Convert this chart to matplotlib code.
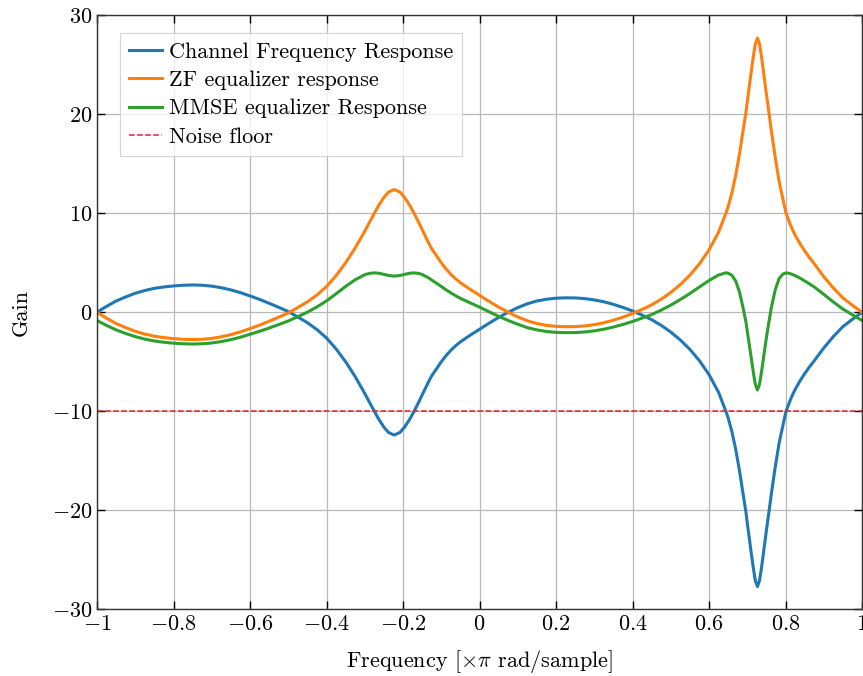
import numpy as np
import matplotlib
matplotlib.use("Agg")
import matplotlib.pyplot as plt
from matplotlib.ticker import FuncFormatter

plt.rcParams['font.family'] = 'serif'
plt.rcParams['font.serif'] = ['cmr10']
plt.rcParams['mathtext.fontset'] = 'cm'
plt.rcParams['axes.unicode_minus'] = False

# frequency in units of pi rad/sample
freq = [-1.0, -0.975, -0.95, -0.925, -0.9, -0.875, -0.85, -0.825, -0.8, -0.775,
        -0.75, -0.725, -0.7, -0.675, -0.65, -0.625, -0.6, -0.575, -0.55, -0.525,
        -0.5, -0.475, -0.45, -0.425, -0.4, -0.375, -0.35, -0.325, -0.3, -0.288,
        -0.275, -0.263, -0.25, -0.238, -0.223, -0.208, -0.196, -0.183, -0.171, -0.158,
        -0.15, -0.133, -0.125, -0.1, -0.0875, -0.075, -0.0625, -0.05, -0.025, 0.0,
        0.025, 0.05, 0.075, 0.1, 0.125, 0.15, 0.175, 0.2, 0.225, 0.25,
        0.275, 0.3, 0.325, 0.35, 0.375, 0.4, 0.425, 0.45, 0.475, 0.5,
        0.525, 0.55, 0.575, 0.6, 0.625, 0.644, 0.65, 0.66, 0.67, 0.68,
        0.69, 0.6965, 0.701, 0.706, 0.711, 0.716, 0.721, 0.7265, 0.732, 0.737,
        0.742, 0.747, 0.752, 0.757, 0.763, 0.773, 0.783, 0.793, 0.8013, 0.81,
        0.8175, 0.825, 0.8375, 0.85, 0.8625, 0.875, 0.9, 0.925, 0.95, 0.975,
        1.0]

# gains in dB
channel = [0.0, 0.6, 1.14, 1.55, 1.92, 2.2, 2.42, 2.56, 2.66, 2.73,
           2.76, 2.73, 2.64, 2.48, 2.26, 1.98, 1.65, 1.3, 0.91, 0.5,
           0.07, -0.48, -1.05, -1.75, -2.6, -3.7, -5.0, -6.5, -8.2, -9.07,
           -10.0, -10.83, -11.6, -12.14, -12.4, -12.14, -11.6, -10.83, -10.0, -9.0,
           -8.35, -7.0, -6.42, -5.0, -4.38, -3.84, -3.38, -2.99, -2.33, -1.72,
           -1.1, -0.52, 0.0, 0.47, 0.86, 1.14, 1.32, 1.42, 1.46, 1.45,
           1.38, 1.25, 1.06, 0.8, 0.49, 0.13, -0.29, -0.75, -1.32, -2.0,
           -2.8, -3.75, -4.9, -6.3, -8.1, -10.0, -10.67, -12.1, -13.9, -16.1,
           -18.6, -20.2, -21.6, -23.05, -24.5, -25.9, -27.1, -27.7, -27.1, -25.85,
           -24.4, -22.9, -21.45, -20.05, -18.3, -15.65, -13.25, -11.45, -10.0, -9.1,
           -8.4, -7.8, -6.95, -6.2, -5.52, -4.9, -3.6, -2.45, -1.45, -0.7,
           0.0]

zf = [0.0, -0.6, -1.14, -1.55, -1.92, -2.2, -2.42, -2.56, -2.66, -2.73,
      -2.76, -2.73, -2.64, -2.48, -2.26, -1.98, -1.65, -1.3, -0.91, -0.5,
      -0.07, 0.48, 1.05, 1.75, 2.6, 3.7, 5.0, 6.5, 8.2, 9.07,
      10.0, 10.83, 11.6, 12.14, 12.4, 12.14, 11.6, 10.83, 10.0, 9.0,
      8.35, 7.0, 6.42, 5.0, 4.38, 3.84, 3.38, 2.99, 2.33, 1.72,
      1.1, 0.52, 0.0, -0.47, -0.86, -1.14, -1.32, -1.42, -1.46, -1.45,
      -1.38, -1.25, -1.06, -0.8, -0.49, -0.13, 0.29, 0.75, 1.32, 2.0,
      2.8, 3.75, 4.9, 6.3, 8.1, 10.0, 10.67, 12.1, 13.9, 16.1,
      18.6, 20.2, 21.6, 23.05, 24.5, 25.9, 27.1, 27.7, 27.1, 25.85,
      24.4, 22.9, 21.45, 20.05, 18.3, 15.65, 13.25, 11.45, 10.0, 9.1,
      8.4, 7.8, 6.95, 6.2, 5.52, 4.9, 3.6, 2.45, 1.45, 0.7,
      0.0]

mmse = [-0.83, -1.33, -1.78, -2.14, -2.46, -2.71, -2.90, -3.03, -3.12, -3.18,
        -3.21, -3.18, -3.10, -2.96, -2.76, -2.52, -2.22, -1.92, -1.59, -1.24,
        -0.88, -0.44, 0.01, 0.54, 1.15, 1.87, 2.61, 3.29, 3.79, 3.93,
        3.98, 3.94, 3.83, 3.72, 3.65, 3.72, 3.83, 3.94, 3.98, 3.92,
        3.82, 3.47, 3.26, 2.61, 2.27, 1.96, 1.67, 1.41, 0.96, 0.52,
        0.05, -0.41, -0.83, -1.21, -1.55, -1.78, -1.94, -2.03, -2.06, -2.05,
        -1.99, -1.88, -1.71, -1.49, -1.23, -0.93, -0.59, -0.23, 0.22, 0.72,
        1.29, 1.90, 2.56, 3.21, 3.77, 3.98, 3.95, 3.73, 3.13, 1.99,
        0.28, -0.99, -2.18, -3.47, -4.80, -6.12, -7.27, -7.85, -7.27, -6.07,
        -4.71, -3.34, -2.05, -0.87, 0.50, 2.26, 3.39, 3.86, 3.98, 3.93,
        3.83, 3.70, 3.46, 3.17, 2.87, 2.56, 1.81, 1.04, 0.32, -0.26,
        -0.83]

noise_floor = -10

fig = plt.figure(figsize=(8.63, 6.76), dpi=100)
ax = fig.add_axes([0.1124, 0.0987, 0.8865, 0.8787])

ax.plot(freq, channel, color='#1f77b4', lw=2.2, label='Channel Frequency Response')
ax.plot(freq, zf, color='#ff7f0e', lw=2.2, label='ZF equalizer response')
ax.plot(freq, mmse, color='#2ca02c', lw=2.2, label='MMSE equalizer Response')
ax.axhline(noise_floor, color='#d62728', ls='--', lw=1.1, label='Noise floor')

ax.set_xlim(-1, 1)
ax.set_ylim(-30, 30)
ax.set_xticks([-1, -0.8, -0.6, -0.4, -0.2, 0, 0.2, 0.4, 0.6, 0.8, 1])
ax.set_yticks([-30, -20, -10, 0, 10, 20, 30])
fmt = FuncFormatter(lambda v, _: r'$%g$' % v)
ax.xaxis.set_major_formatter(fmt)
ax.yaxis.set_major_formatter(fmt)
ax.grid(True, color='#b8b8b8', lw=0.9)
ax.tick_params(direction='in', length=6, width=1, top=True, right=True, labelsize=16)
for s in ax.spines.values():
    s.set_color('#333333')
    s.set_linewidth(1.0)

ax.set_xlabel(r'Frequency [$\times\pi$ rad/sample]', fontsize=16, va='top')
ax.xaxis.set_label_coords(0.5, -0.066)
ax.set_ylabel('Gain', fontsize=16)
ax.yaxis.set_label_coords(-0.086, 0.5)

leg = ax.legend(loc='upper left', bbox_to_anchor=(0.030, 0.970), borderaxespad=0,
                fontsize=16, fancybox=False, framealpha=0.8, edgecolor='#cccccc',
                handlelength=1.5, handletextpad=0.3, labelspacing=0.4, borderpad=0.4)
leg.get_frame().set_linewidth(0.8)

fig.savefig('out.png', dpi=100)
